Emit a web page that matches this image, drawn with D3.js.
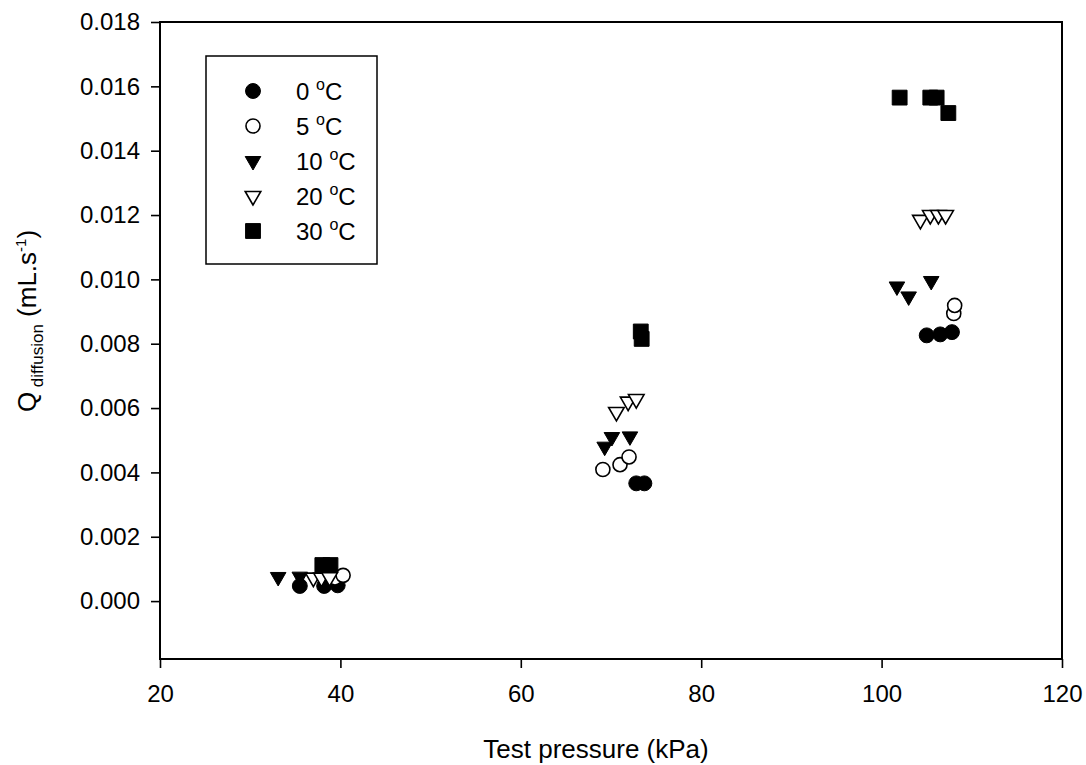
<!DOCTYPE html>
<html>
<head>
<meta charset="utf-8">
<script src="https://cdn.jsdelivr.net/npm/d3@7"></script>
<style>
  body { margin: 0; background: #fff; }
  text { font-family: Arial, "Liberation Sans", sans-serif; fill: #000; }
</style>
</head>
<body>
<div id="chart"></div>
<script>
// data: [test pressure kPa, Q diffusion mL/s]
var temps0 = [[35.5, 0.00047], [38.2, 0.00047], [39.7, 0.00049],
              [72.8, 0.00366], [73.7, 0.00366],
              [105.0, 0.00826], [106.5, 0.00829], [107.8, 0.00836]];
var temps5 = [[39.4, 0.00072], [40.3, 0.00080],
              [69.1, 0.00409], [71.0, 0.00424], [72.0, 0.00448],
              [108.0, 0.00894], [108.1, 0.00919]];
var temps10 = [[33.1, 0.00075], [35.5, 0.00076],
               [69.3, 0.00480], [70.1, 0.00510], [72.1, 0.00512],
               [101.7, 0.00978], [103.0, 0.00947], [105.5, 0.00995]];
var temps20 = [[37.0, 0.00073], [37.9, 0.00073], [38.8, 0.00074],
               [70.6, 0.00588], [71.9, 0.00620], [72.8, 0.00628],
               [104.3, 0.01185], [105.4, 0.01200], [106.3, 0.01200], [107.1, 0.01200]];
var temps30 = [[38.0, 0.00112], [38.9, 0.00112],
               [73.3, 0.00838], [73.4, 0.00815],
               [102.0, 0.01565], [105.4, 0.01565], [106.1, 0.01565], [107.4, 0.01517]];

var legendLabels = ["0", "5", "10", "20", "30"];
var xTicks = [20, 40, 60, 80, 100, 120];
var yTicks = [0, 0.002, 0.004, 0.006, 0.008, 0.010, 0.012, 0.014, 0.016, 0.018];

var width = 1086, height = 765;
var margin = {top: 22, right: 24, bottom: 106, left: 160};
var plotW = width - margin.left - margin.right;
var plotH = height - margin.top - margin.bottom;

var svg = d3.select("#chart").append("svg")
    .attr("width", width)
    .attr("height", height);

var g = svg.append("g")
    .attr("transform", "translate(" + margin.left + "," + margin.top + ")");

var xScale = d3.scaleLinear().domain([20, 120]).range([0, plotW]);
var yScale = d3.scaleLinear().domain([-0.0018, 0.018]).range([plotH, 0]);

// marker styles per series
var series = [
    {data: temps0, shape: d3.symbolCircle, size: 175, fill: "#000", rot: 0},
    {data: temps5, shape: d3.symbolCircle, size: 155, fill: "#fff", rot: 0},
    {data: temps10, shape: d3.symbolTriangle, size: 105, fill: "#000", rot: 180},
    {data: temps20, shape: d3.symbolTriangle, size: 105, fill: "#fff", rot: 180},
    {data: temps30, shape: d3.symbolSquare, size: 220, fill: "#000", rot: 0}
];

// axes
var xAxis = g.append("g")
    .attr("transform", "translate(0," + plotH + ")")
    .call(d3.axisBottom(xScale).tickValues(xTicks).tickSize(9).tickPadding(17));

var yAxis = g.append("g")
    .call(d3.axisLeft(yScale).tickValues(yTicks).tickSize(9).tickPadding(11)
        .tickFormat(d3.format(".3f")));

[xAxis, yAxis].forEach(function (ax) {
    ax.select(".domain").remove();
    ax.selectAll("line").attr("stroke", "#000").attr("stroke-width", 1.6);
    ax.selectAll("text").style("font-size", "24px")
        .style("font-family", "Arial, 'Liberation Sans', sans-serif");
});

// frame
g.append("rect")
    .attr("x", 0).attr("y", 0)
    .attr("width", plotW).attr("height", plotH)
    .attr("fill", "none")
    .attr("stroke", "#000")
    .attr("stroke-width", 2);

// markers
series.forEach(function (s) {
    var sym = d3.symbol().type(s.shape).size(s.size);
    g.append("g").selectAll("path")
        .data(s.data)
        .enter()
        .append("path")
        .attr("d", sym)
        .attr("transform", function (d) {
            return "translate(" + xScale(d[0]) + "," + yScale(d[1]) + ") rotate(" + s.rot + ")";
        })
        .attr("fill", s.fill)
        .attr("stroke", "#000")
        .attr("stroke-width", s.fill === "#fff" ? 1.6 : 1);
});

// legend
var legend = g.append("g").attr("transform", "translate(46, 34)");
legend.append("rect")
    .attr("width", 171).attr("height", 208)
    .attr("fill", "#fff")
    .attr("stroke", "#000")
    .attr("stroke-width", 1.5);

series.forEach(function (s, i) {
    var row = legend.append("g").attr("transform", "translate(0," + (35 + i * 35) + ")");
    row.append("path")
        .attr("d", d3.symbol().type(s.shape).size(s.size)())
        .attr("transform", "translate(47,0) rotate(" + s.rot + ")")
        .attr("fill", s.fill)
        .attr("stroke", "#000")
        .attr("stroke-width", s.fill === "#fff" ? 1.6 : 1);
    var t = row.append("text")
        .attr("x", 90).attr("y", 9)
        .style("font-size", "24px");
    t.append("tspan").text(legendLabels[i] + " ");
    t.append("tspan").text("o").style("font-size", "16px").attr("dy", -10);
    t.append("tspan").text("C").attr("dy", 10);
});

// axis titles
svg.append("text")
    .attr("x", 596).attr("y", 758)
    .attr("text-anchor", "middle")
    .style("font-size", "26px")
    .text("Test pressure (kPa)");

var yTitle = svg.append("text")
    .attr("transform", "translate(36,321) rotate(-90)")
    .attr("text-anchor", "middle")
    .style("font-size", "26px");
yTitle.append("tspan").text("Q");
yTitle.append("tspan").text(" diffusion").style("font-size", "17px").attr("dy", 7);
yTitle.append("tspan").text(" (mL.s").attr("dy", -7);
yTitle.append("tspan").text("-1").style("font-size", "15px").attr("dy", -10);
yTitle.append("tspan").text(")").attr("dy", 10);
</script>
</body>
</html>
